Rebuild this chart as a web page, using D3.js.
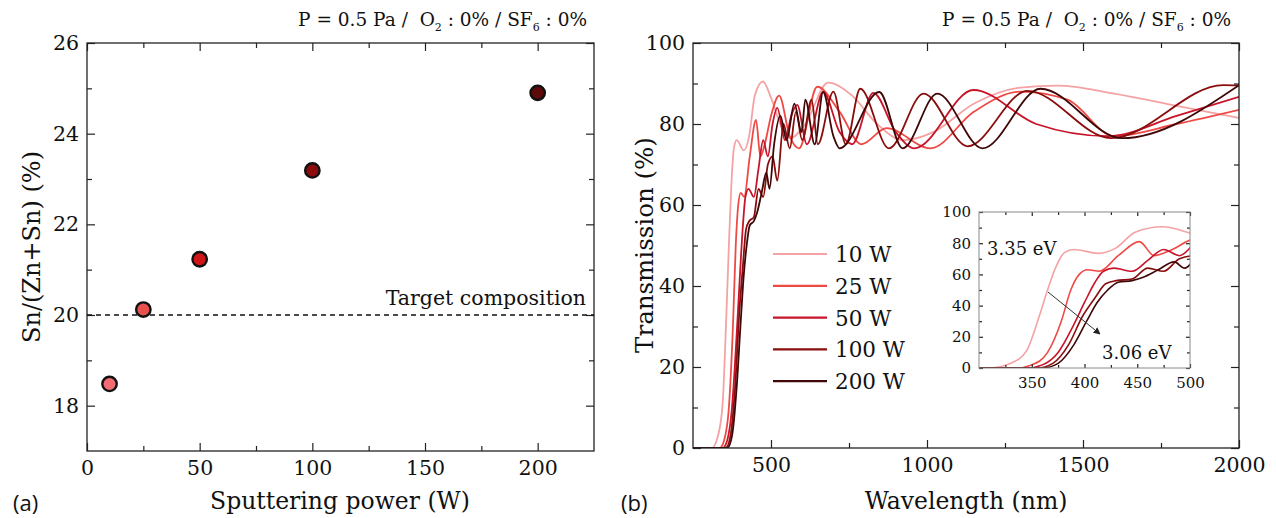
<!DOCTYPE html>
<html>
<head>
<meta charset="utf-8">
<script src="https://cdnjs.cloudflare.com/ajax/libs/d3/7.8.5/d3.min.js"></script>
<style>
body { margin: 0; background: #fff; }
text { font-family: "DejaVu Serif", serif; fill: #111; }
.tick line { stroke: #222; stroke-width: 1.2; }
</style>
</head>
<body>
<div id="chart"></div>
<script>
// ---- panel (a): Sn/(Zn+Sn) vs sputtering power
var powers = [10, 25, 50, 100, 200];
var snRatio = [18.48, 20.12, 21.23, 23.19, 24.90];
var dotColors = ["#f26b73", "#e9514f", "#cf1518", "#8a0c0c", "#5c0a0a"];
var targetComposition = 20;
var xTicksA = [0, 50, 100, 150, 200], xMinorA = [25, 75, 125, 175];
var yTicksA = [18, 20, 22, 24, 26], yMinorA = [19, 21, 23, 25];

// ---- panel (b): transmission spectra [wavelength nm, T %]
var legendLabels = ["10 W", "25 W", "50 W", "100 W", "200 W"];
var lineColors = ["#f4a2a4", "#ee4a45", "#c8142a", "#8a0d0d", "#3f0707"];
var trans10 = [[250,0],[310,0],[330,3],[345,11],[357,33],[365,50],[373,65],[381,74],[390,76],[413,73.5],[430,77],[448,87],[474,90.5],[500,86.5],[530,80],[562,76.5],[610,80],[683,90.2],[760,87],[840,80],[924,76],[1020,78],[1150,85],[1300,89],[1420,89.5],[1600,87.5],[1800,84.5],[2000,81.5]];
var trans25 = [[250,0],[335,0],[350,2],[365,10],[378,30],[387,50],[395,60],[403,63],[414,62],[432,72],[452,81],[466,72],[480,75],[500,82],[526,87],[560,77],[590,74],[648,89.2],[720,83],[790,75],[870,79],[1011,74],[1150,83],[1300,88],[1450,86],[1600,77],[1800,80],[2000,83.5]];
var trans50 = [[250,0],[345,0],[360,2],[375,10],[390,28],[400,42],[410,55],[418,62],[428,64],[445,62],[460,69],[475,76],[490,72],[505,80],[520,84],[545,76],[565,82],[584,84.7],[615,75],[667,87.9],[720,78],[760,75],[828,87.7],[900,78],[960,74],[1149,88.4],[1350,80],[1580,77],[1800,82],[2000,86.7]];
var trans100 = [[250,0],[355,0],[370,3],[385,15],[398,33],[410,45],[420,54],[430,56],[445,57],[460,64],[475,62],[490,70],[505,72],[520,66],[540,80],[560,74],[580,83],[600,76],[630,86],[650,75],[700,88],[740,75],[786,88.7],[878,74],[989,87.5],[1130,74.5],[1322,88.2],[1590,76.5],[1950,89.6],[2000,89.5]];
var trans200 = [[250,0],[360,0],[375,3],[390,15],[402,30],[412,42],[422,50],[432,55],[445,56],[455,58],[470,63],[485,68],[495,64],[510,75],[530,82],[550,76],[575,85],[598,78],[610,86],[640,75],[667,87.9],[700,77],[720,74],[847,87.9],[922,74],[1033,87.5],[1178,74],[1364,88.7],[1625,76.5],[2000,89.6]];
var spectra = [trans10, trans25, trans50, trans100, trans200];
var xTicksB = [500, 1000, 1500, 2000], xMinorB = [750, 1250, 1750];
var yTicksB = [0, 20, 40, 60, 80, 100], yMinorB = [10, 30, 50, 70, 90];
var xTicksIn = [350, 400, 450, 500], xMinorIn = [325, 375, 425, 475];
var yTicksIn = [0, 20, 40, 60, 80, 100], yMinorIn = [10, 30, 50, 70, 90];

var svg = d3.select("#chart").append("svg")
    .attr("width", 1276).attr("height", 518);

var fmt = d3.format("d");

// draws ticks inward on all four sides plus the frame
function frame(g, x, y, xt, xm, yt, ym, big, small, fontSize, color) {
    var w = x.range()[1] - x.range()[0], h = y.range()[0] - y.range()[1];
    var gx = g.append("g").attr("transform", "translate(0," + y.range()[0] + ")");
    gx.call(d3.axisBottom(x).tickValues(xt).tickSize(-big).tickPadding(9).tickFormat(fmt));
    gx.append("g").call(d3.axisBottom(x).tickValues(xm).tickSize(-small).tickFormat(""));
    var gt = g.append("g").attr("transform", "translate(0," + y.range()[1] + ")");
    gt.call(d3.axisTop(x).tickValues(xt).tickSize(-big).tickFormat(""));
    gt.append("g").call(d3.axisTop(x).tickValues(xm).tickSize(-small).tickFormat(""));
    var gy = g.append("g").attr("transform", "translate(" + x.range()[0] + ",0)");
    gy.call(d3.axisLeft(y).tickValues(yt).tickSize(-big).tickPadding(8).tickFormat(fmt));
    gy.append("g").call(d3.axisLeft(y).tickValues(ym).tickSize(-small).tickFormat(""));
    var gr = g.append("g").attr("transform", "translate(" + x.range()[1] + ",0)");
    gr.call(d3.axisRight(y).tickValues(yt).tickSize(-big).tickFormat(""));
    gr.append("g").call(d3.axisRight(y).tickValues(ym).tickSize(-small).tickFormat(""));
    g.selectAll(".domain").remove();
    g.selectAll(".tick text").style("font-family", "DejaVu Serif").style("font-size", fontSize + "px").attr("fill", "#111");
    g.selectAll(".tick line").attr("stroke", color);
    g.append("rect").attr("class", "frame").attr("x", x.range()[0]).attr("y", y.range()[1])
        .attr("width", w).attr("height", h)
        .attr("fill", "none").attr("stroke", color).attr("stroke-width", 1.3);
}

function title(x, y) {
    var t = svg.append("text").attr("x", x).attr("y", y)
        .attr("text-anchor", "end").style("font-size", "18.5px").style("white-space", "pre");
    t.append("tspan").text("P = 0.5 Pa /  O");
    t.append("tspan").attr("dy", 5).style("font-size", "11px").text("2");
    t.append("tspan").attr("dy", -5).text(" : 0% / SF");
    t.append("tspan").attr("dy", 5).style("font-size", "11px").text("6");
    t.append("tspan").attr("dy", -5).text(" : 0%");
}

// ---------- panel (a)
var xa = d3.scaleLinear().domain([0, 225]).range([87, 594]);
var ya = d3.scaleLinear().domain([17, 26]).range([451, 43]);
var ga = svg.append("g");
frame(ga, xa, ya, xTicksA, xMinorA, yTicksA, yMinorA, 8, 5, 20.5, "#222");

ga.append("line")
    .attr("x1", xa(0)).attr("x2", xa(225))
    .attr("y1", ya(targetComposition)).attr("y2", ya(targetComposition))
    .attr("stroke", "#111").attr("stroke-width", 1.4).attr("stroke-dasharray", "5,4");
ga.append("text").attr("x", 586).attr("y", ya(targetComposition) - 10)
    .attr("text-anchor", "end").style("font-size", "20.5px").text("Target composition");

ga.selectAll("circle").data(powers).enter().append("circle")
    .attr("cx", function(d) { return xa(d); })
    .attr("cy", function(d, i) { return ya(snRatio[i]); })
    .attr("r", 7.2)
    .attr("fill", function(d, i) { return dotColors[i]; })
    .attr("stroke", "#111").attr("stroke-width", 2.4);

title(587, 26);
svg.append("text").attr("transform", "translate(40,247) rotate(-90)")
    .attr("text-anchor", "middle").style("font-size", "24px").text("Sn/(Zn+Sn) (%)");
svg.append("text").attr("x", 340).attr("y", 509)
    .attr("text-anchor", "middle").style("font-size", "23.5px").text("Sputtering power (W)");
svg.append("text").attr("x", 13).attr("y", 511)
    .style("font-family", "Open Sans").style("font-size", "22px").text("(a)");

// ---------- panel (b)
var xb = d3.scaleLinear().domain([250, 2000]).range([693, 1239]);
var yb = d3.scaleLinear().domain([0, 100]).range([448, 43]);
var gb = svg.append("g");
svg.append("clipPath").attr("id", "clipB").append("rect")
    .attr("x", 693).attr("y", 43).attr("width", 546).attr("height", 405);

var lineB = d3.line()
    .x(function(d) { return xb(d[0]); })
    .y(function(d) { return yb(d[1]); })
    .curve(d3.curveMonotoneX);

gb.append("g").attr("clip-path", "url(#clipB)")
    .selectAll("path").data(spectra).enter().append("path")
    .attr("d", lineB)
    .attr("fill", "none")
    .attr("stroke", function(d, i) { return lineColors[i]; })
    .attr("stroke-width", 1.8);

frame(gb, xb, yb, xTicksB, xMinorB, yTicksB, yMinorB, 8, 5, 20.5, "#222");

// legend
var leg = gb.selectAll(".leg").data(legendLabels).enter().append("g")
    .attr("class", "leg")
    .attr("transform", function(d, i) { return "translate(773," + (254 + i * 31.8) + ")"; });
leg.append("line").attr("x1", 0).attr("x2", 54)
    .attr("stroke", function(d, i) { return lineColors[i]; }).attr("stroke-width", 2.2);
leg.append("text").attr("x", 62).attr("y", 8).style("font-size", "21.5px").text(function(d) { return d; });

title(1231, 26);
svg.append("text").attr("transform", "translate(653,245) rotate(-90)")
    .attr("text-anchor", "middle").style("font-size", "24.5px").text("Transmission (%)");
svg.append("text").attr("x", 966).attr("y", 509)
    .attr("text-anchor", "middle").style("font-size", "23.5px").text("Wavelength (nm)");
svg.append("text").attr("x", 621).attr("y", 511)
    .style("font-family", "Open Sans").style("font-size", "22px").text("(b)");

// ---------- inset
var xi = d3.scaleLinear().domain([300, 500]).range([979, 1190]);
var yi = d3.scaleLinear().domain([0, 100]).range([368, 212]);
var gi = svg.append("g");
gi.append("rect").attr("x", 979).attr("y", 212).attr("width", 211).attr("height", 156).attr("fill", "#fff");
svg.append("clipPath").attr("id", "clipI").append("rect")
    .attr("x", 979).attr("y", 212).attr("width", 211).attr("height", 156);
var lineI = d3.line()
    .x(function(d) { return xi(d[0]); })
    .y(function(d) { return yi(d[1]); })
    .curve(d3.curveMonotoneX);
gi.append("g").attr("clip-path", "url(#clipI)")
    .selectAll("path").data(spectra).enter().append("path")
    .attr("d", lineI)
    .attr("fill", "none")
    .attr("stroke", function(d, i) { return lineColors[i]; })
    .attr("stroke-width", 1.6);
frame(gi, xi, yi, xTicksIn, xMinorIn, yTicksIn, yMinorIn, 4, 3, 15, "#8a8a8a");
gi.selectAll(".frame").attr("stroke-width", 1);

gi.append("text").attr("x", 987).attr("y", 255).style("font-size", "18px").text("3.35 eV");
gi.append("text").attr("x", 1102).attr("y", 359).style("font-size", "18px").text("3.06 eV");

svg.append("defs").append("marker").attr("id", "arr")
    .attr("viewBox", "0 0 10 10").attr("refX", 9).attr("refY", 5)
    .attr("markerWidth", 7).attr("markerHeight", 7).attr("orient", "auto")
    .append("path").attr("d", "M0,0 L10,5 L0,10 z").attr("fill", "#222");
gi.append("line").attr("x1", 1048).attr("y1", 292).attr("x2", 1100).attr("y2", 334)
    .attr("stroke", "#333").attr("stroke-width", 1).attr("marker-end", "url(#arr)");
</script>
</body>
</html>
